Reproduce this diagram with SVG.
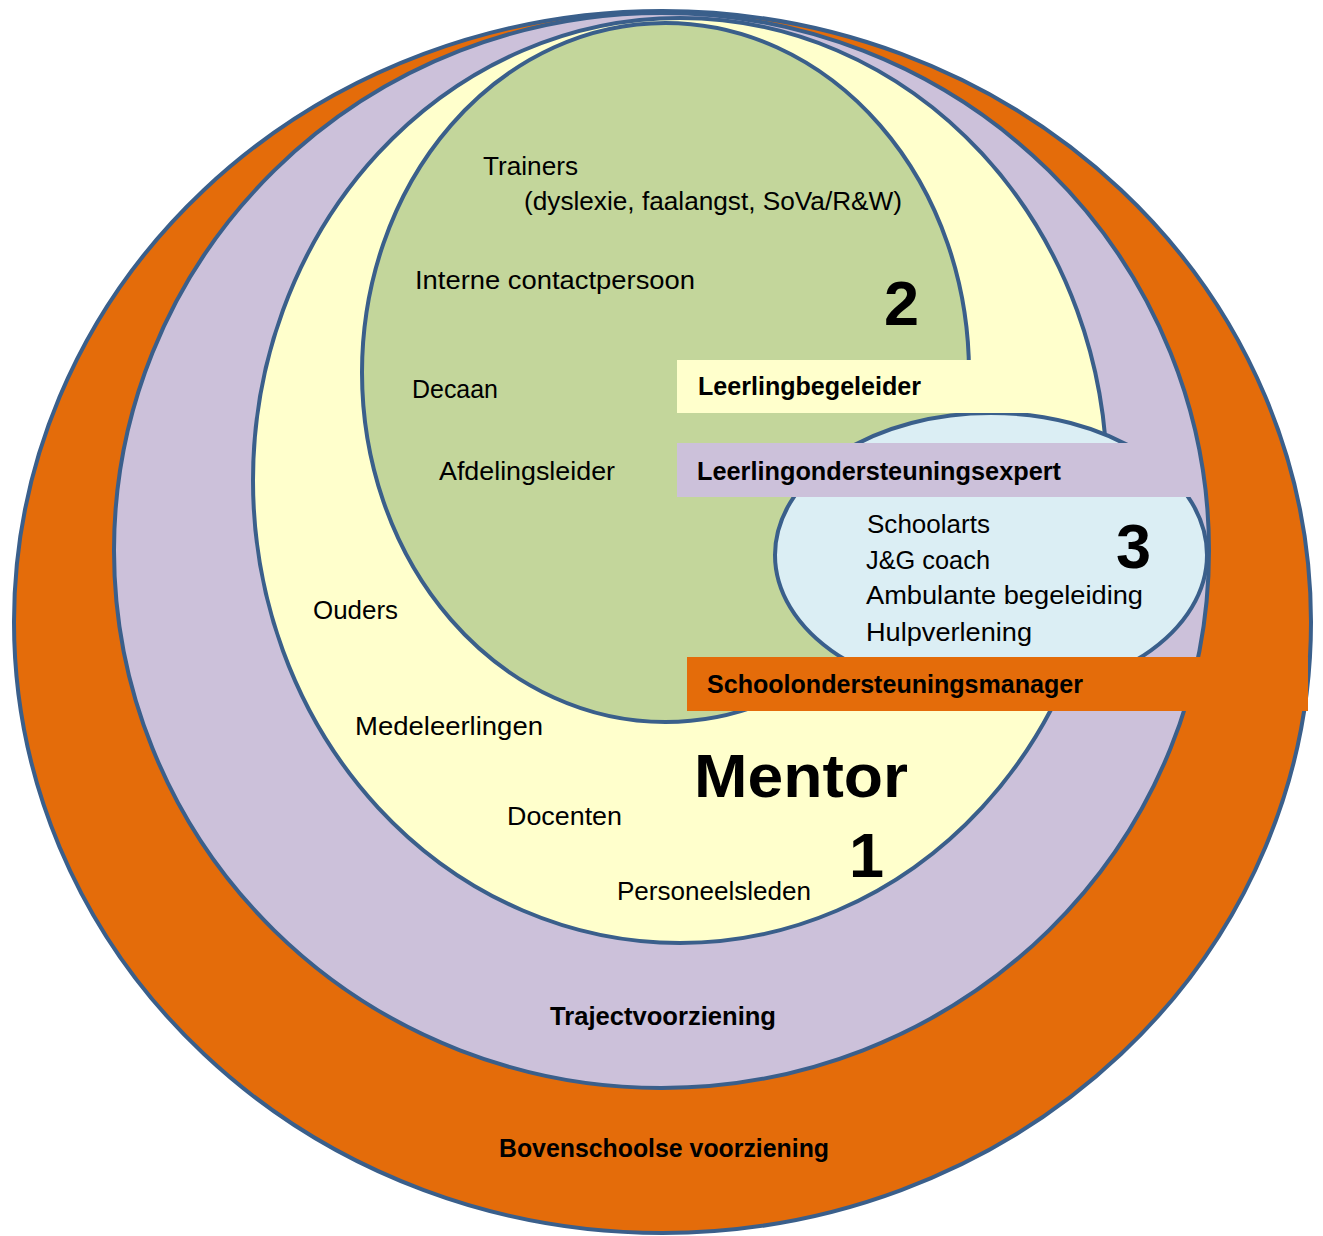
<svg xmlns="http://www.w3.org/2000/svg" width="1323" height="1236" viewBox="0 0 1323 1236">
<style>
.ring{stroke:#3A5F8B;stroke-width:4}
.t{font-family:"Liberation Sans",Arial,sans-serif;font-size:25px;fill:#000}
.b{font-family:"Liberation Sans",Arial,sans-serif;font-size:25px;font-weight:bold;fill:#000}
.big{font-family:"Liberation Sans",Arial,sans-serif;font-weight:bold;fill:#000}
</style>
<rect width="1323" height="1236" fill="#FFFFFF"/>
<g id="bovenschoolse">
<ellipse class="ring" cx="662.5" cy="622" rx="648.5" ry="611" fill="#E46C0A"/>
</g>
<g id="traject">
<ellipse class="ring" cx="661.5" cy="550.5" rx="547.5" ry="537.5" fill="#CCC1DA"/>
</g>
<g id="niveau1">
<ellipse class="ring" cx="680" cy="480.5" rx="427" ry="462.5" fill="#FFFFCC"/>
</g>
<g id="niveau2">
<ellipse class="ring" cx="665.5" cy="372.5" rx="303.5" ry="349.5" fill="#C3D69B"/>
</g>
<g id="niveau3">
<ellipse class="ring" cx="991" cy="555" rx="216" ry="142" fill="#DBEEF4"/>
</g>
<g id="leerlingbegeleider">
<rect x="677" y="360" width="413" height="53" fill="#FFFFCC"/>
<text class="b" x="698" y="395" textLength="223" lengthAdjust="spacingAndGlyphs">Leerlingbegeleider</text>
</g>
<g id="leerlingondersteuningsexpert">
<rect x="677" y="443" width="518" height="54" fill="#CCC1DA"/>
<text class="b" x="697" y="480" textLength="364" lengthAdjust="spacingAndGlyphs">Leerlingondersteuningsexpert</text>
</g>
<g id="schoolondersteuningsmanager">
<rect x="687" y="657" width="621" height="54" fill="#E46C0A"/>
<text class="b" x="707" y="693" textLength="376" lengthAdjust="spacingAndGlyphs">Schoolondersteuningsmanager</text>
</g>
<g id="labels-niveau2">
<text class="t" x="483" y="175" textLength="95" lengthAdjust="spacingAndGlyphs">Trainers</text>
<text class="t" x="524" y="210" textLength="378" lengthAdjust="spacingAndGlyphs">(dyslexie, faalangst, SoVa/R&amp;W)</text>
<text class="t" x="415" y="289" textLength="280" lengthAdjust="spacingAndGlyphs">Interne contactpersoon</text>
<text class="t" x="412" y="398" textLength="86" lengthAdjust="spacingAndGlyphs">Decaan</text>
<text class="t" x="439" y="480" textLength="176" lengthAdjust="spacingAndGlyphs">Afdelingsleider</text>
<text class="big" x="884" y="325" font-size="63">2</text>
</g>
<g id="labels-niveau3">
<text class="t" x="867" y="533" textLength="123" lengthAdjust="spacingAndGlyphs">Schoolarts</text>
<text class="t" x="866" y="569" textLength="124" lengthAdjust="spacingAndGlyphs">J&amp;G coach</text>
<text class="t" x="866" y="604" textLength="277" lengthAdjust="spacingAndGlyphs">Ambulante begeleiding</text>
<text class="t" x="866" y="641" textLength="166" lengthAdjust="spacingAndGlyphs">Hulpverlening</text>
<text class="big" x="1116" y="568" font-size="63">3</text>
</g>
<g id="labels-niveau1">
<text class="t" x="313" y="619" textLength="85" lengthAdjust="spacingAndGlyphs">Ouders</text>
<text class="t" x="355" y="735" textLength="188" lengthAdjust="spacingAndGlyphs">Medeleerlingen</text>
<text class="t" x="507" y="825" textLength="115" lengthAdjust="spacingAndGlyphs">Docenten</text>
<text class="t" x="617" y="900" textLength="194" lengthAdjust="spacingAndGlyphs">Personeelsleden</text>
<text class="big" x="694" y="797" font-size="61" textLength="214" lengthAdjust="spacingAndGlyphs">Mentor</text>
<text class="big" x="849" y="877" font-size="63">1</text>
</g>
<g id="labels-outer">
<text class="b" x="550" y="1025" textLength="226" lengthAdjust="spacingAndGlyphs">Trajectvoorziening</text>
<text class="b" x="499" y="1157" textLength="330" lengthAdjust="spacingAndGlyphs">Bovenschoolse voorziening</text>
</g>
<g id="connectors"/>
</svg>
